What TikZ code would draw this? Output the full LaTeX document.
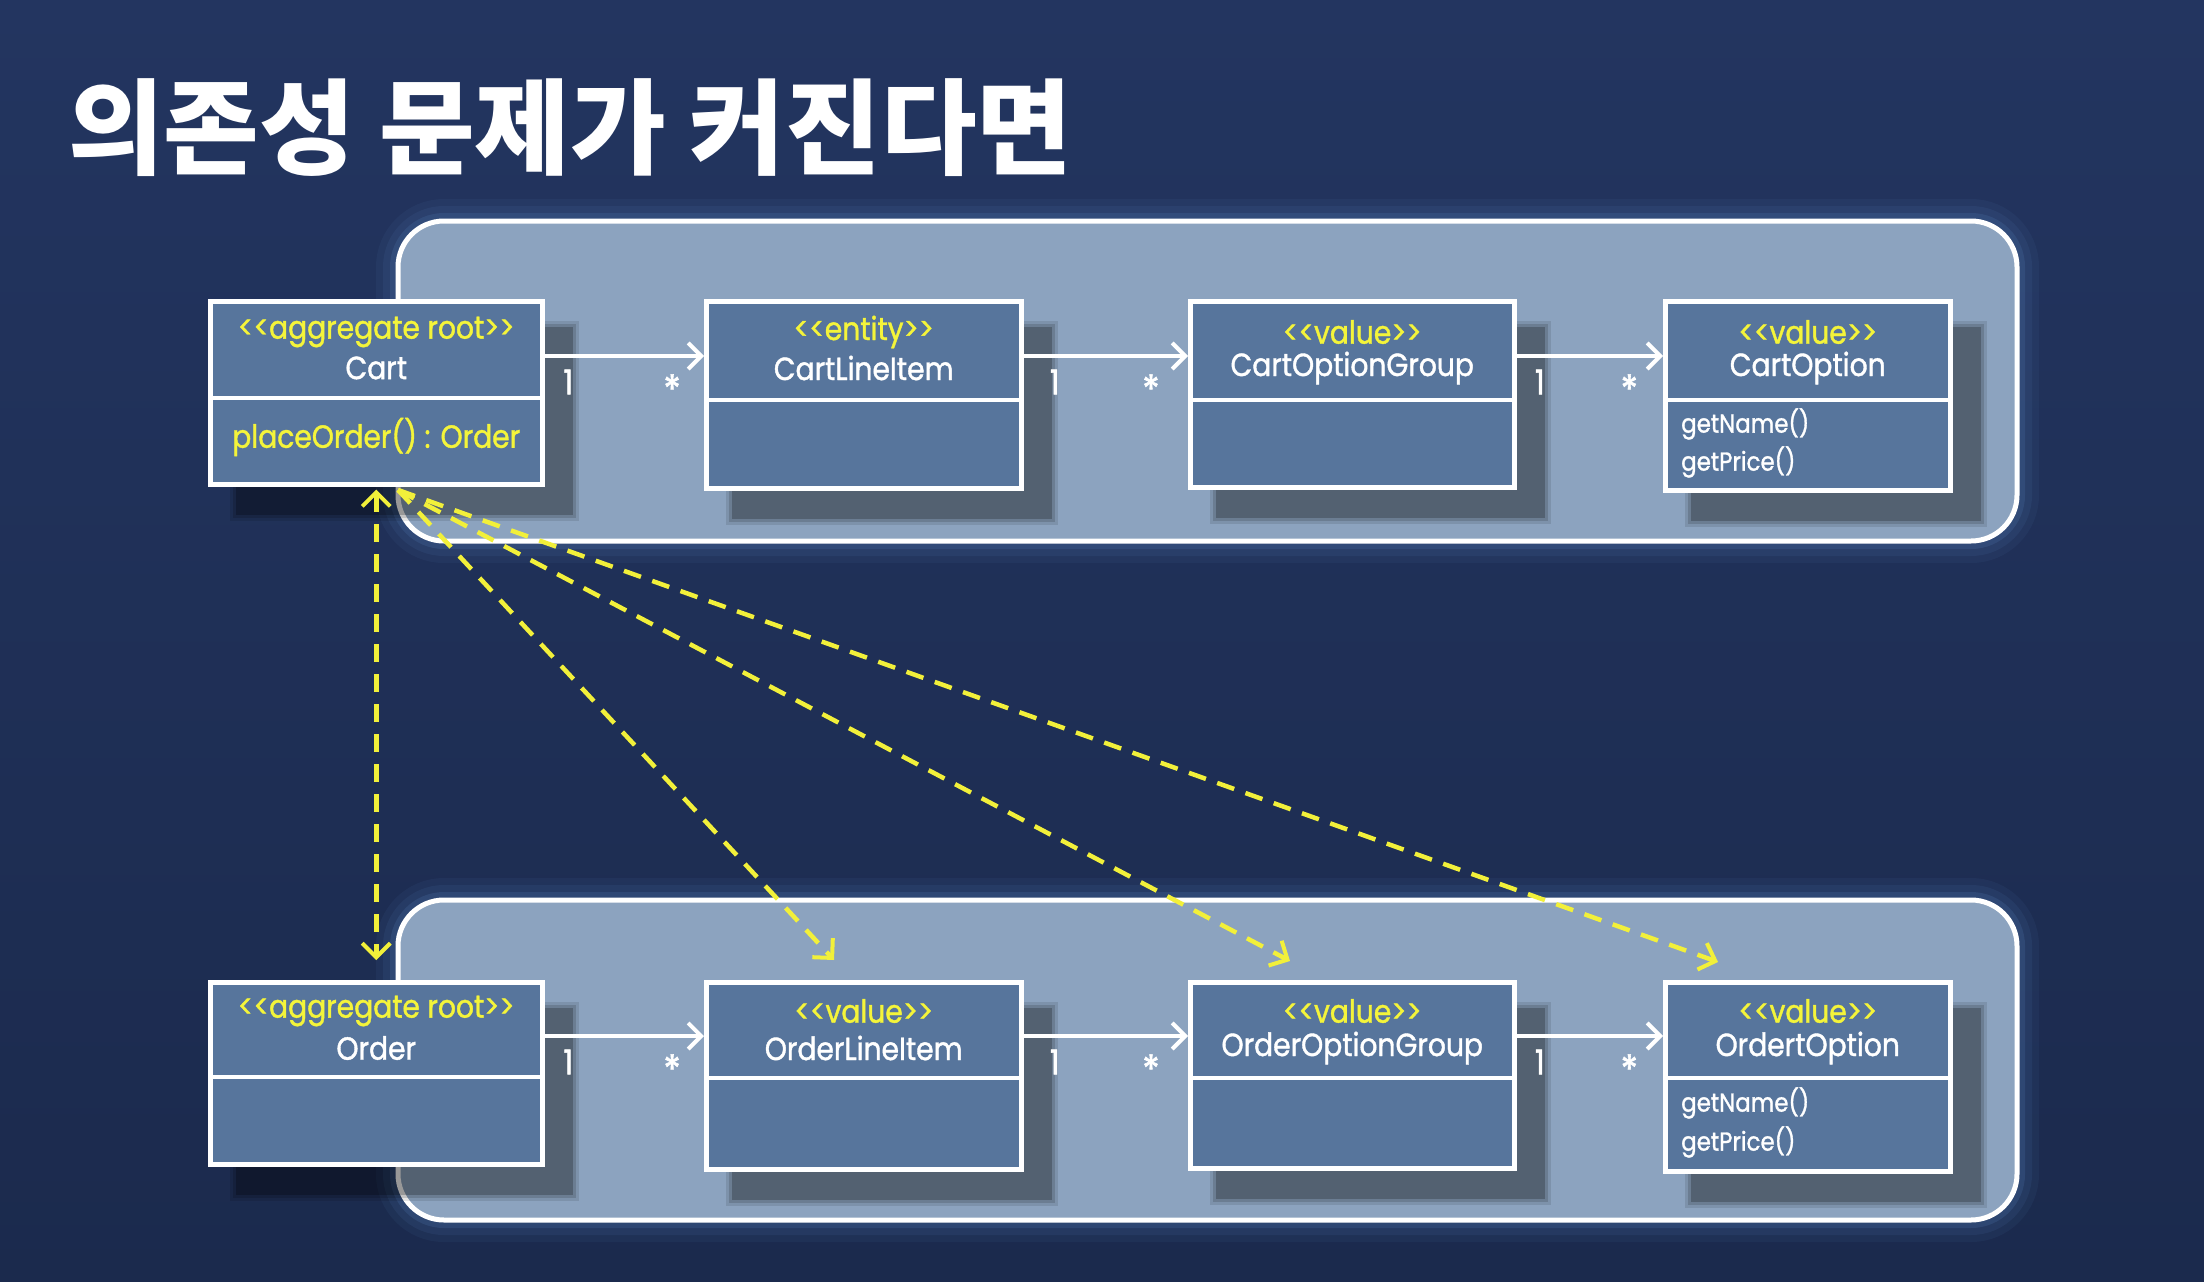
\documentclass[tikz,border=0pt]{standalone}
\usepackage{fontspec}
\usetikzlibrary{arrows.meta,calc}
\newfontfamily\umlfont{Poppins}[Ligatures=TeXOff, FakeStretch=0.88, FakeBold=1.2]
\newfontfamily\multfont{Poppins}[Ligatures=TeXOff, FakeStretch=0.9, FakeBold=1.5]
\newfontfamily\titlefont{Noto Sans CJK KR}[Ligatures=TeXOff]

\definecolor{bgtop}{HTML}{233560}
\definecolor{bgbot}{HTML}{1B2A4D}
\definecolor{contfill}{HTML}{8CA3BF}
\definecolor{boxfill}{HTML}{57759C}
\definecolor{stereo}{HTML}{F4F43A}
\definecolor{glowblue}{HTML}{4A70A6}
\definecolor{depyellow}{HTML}{F2F03A}

\pgfdeclarelayer{bg}
\pgfdeclarelayer{shadowlayer}
\pgfsetlayers{bg,shadowlayer,main}

\tikzset{
  container/.style={draw=white, line width=5pt, fill=contfill, rounded corners=46pt},
  classbox/.style={draw=white, line width=4.5pt, fill=boxfill, inner sep=0pt, anchor=north west},
  stereotype/.style={text=stereo, font=\umlfont\fontsize{32}{34}\selectfont, inner sep=0pt},
  classname/.style={text=white, font=\umlfont\fontsize{32}{34}\selectfont, inner sep=0pt},
  method/.style={text=white, font=\umlfont\fontsize{26}{28}\selectfont, inner sep=0pt, anchor=west},
  rootmethod/.style={text=stereo, font=\umlfont\fontsize{32}{34}\selectfont, inner sep=0pt},
  mult/.style={text=white, font=\multfont\fontsize{34}{36}\selectfont, inner sep=0pt},
  star/.style={text=white, font=\multfont\fontsize{40}{40}\selectfont, inner sep=0pt},
  assoc/.style={draw=white, line width=4pt, -{Straight Barb[length=13pt,width=26pt,line width=4pt]}},
  depline/.style={draw=depyellow, line width=4.5pt, dash pattern=on 18pt off 12pt},
  dep/.style={depline, -{Straight Barb[length=14pt,width=28pt,line width=4pt]}},
}

% soft drop shadow behind a class box
\newcommand\boxshadow[1]{%
  \foreach \g/\o in {6/0.10, 3/0.14, 0/0.22} {
    \fill[black, opacity=\o] ($(#1.north west)+(28-\g,28-\g)$) rectangle ($(#1.south east)+(28+\g,28+\g)$);
  }}
% horizontal compartment separator
\newcommand\compartment[2]{%
  \draw[white, line width=4.5pt] ($(#1.north west)+(0,#2)$) -- ($(#1.north east)+(0,#2)$);}

\begin{document}
\begin{tikzpicture}[x=1pt,y=-1pt]
\useasboundingbox (0,0) rectangle (2204,1282);

\begin{pgfonlayer}{bg}
  \shade[top color=bgtop, bottom color=bgbot] (0,0) rectangle (2204,1282);
  % aggregate boundaries with a soft halo
  \foreach \yt/\yb in {221/541, 900/1220} {
    \foreach \w/\o in {44/0.10, 30/0.14, 16/0.25}
      \draw[glowblue, line width=\w pt, opacity=\o, rounded corners=46pt] (398,\yt) rectangle (2017,\yb);
    \path[container] (398,\yt) rectangle (2017,\yb);
  }
\end{pgfonlayer}

\node[anchor=base west, text=white, inner sep=0pt,
      font=\titlefont\bfseries\fontsize{104}{110}\selectfont] (title) at (68,166) {의존성 문제가 커진다면};

% ---- Cart aggregate ----
\node[classbox, minimum width=332pt, minimum height=183pt] (cart) at (208,299) {};
\node[classbox, minimum width=315pt, minimum height=187pt] (cli)  at (704,299) {};
\node[classbox, minimum width=324pt, minimum height=186pt] (cog)  at (1188,299) {};
\node[classbox, minimum width=285pt, minimum height=189pt] (cop)  at (1663,299) {};

% ---- Order aggregate ----
\node[classbox, minimum width=332pt, minimum height=182pt] (order) at (208,980) {};
\node[classbox, minimum width=315pt, minimum height=187pt] (oli)   at (704,980) {};
\node[classbox, minimum width=324pt, minimum height=186pt] (oog)   at (1188,980) {};
\node[classbox, minimum width=285pt, minimum height=189pt] (oop)   at (1663,980) {};

\begin{pgfonlayer}{shadowlayer}
  \foreach \n in {cart,cli,cog,cop,order,oli,oog,oop} { \boxshadow{\n} }
\end{pgfonlayer}

\compartment{cart}{99}
\foreach \n in {cli,cog,cop} { \compartment{\n}{101} }
\compartment{order}{97}
\foreach \n in {oli,oog,oop} { \compartment{\n}{98} }

% header texts
\foreach \n/\s/\c in {cart/{<<aggregate root>>}/Cart, cli/{<<entity>>}/CartLineItem,
                      cog/{<<value>>}/CartOptionGroup, cop/{<<value>>}/CartOption} {
  \node[stereotype] (\n-st) at ($(\n.north)+(0,33)$) {\s};
  \node[classname]  (\n-nm) at ($(\n.north)+(0,69)$) {\c};
}
\foreach \n/\s/\c in {order/{<<aggregate root>>}/Order, oli/{<<value>>}/OrderLineItem,
                      oog/{<<value>>}/OrderOptionGroup, oop/{<<value>>}/OrdertOption} {
  \node[stereotype] (\n-st) at ($(\n.north)+(0,31)$) {\s};
  \node[classname]  (\n-nm) at ($(\n.north)+(0,68)$) {\c};
}

% operations
\node[rootmethod] (cart-op) at ($(cart.north)+(0,138)$) {placeOrder() : Order};
\node[method] (cop-op1) at ($(cop.north west)+(18,125)$) {getName()};
\node[method] (cop-op2) at ($(cop.north west)+(18,163)$) {getPrice()};
\node[method] (oop-op1) at ($(oop.north west)+(18,123)$) {getName()};
\node[method] (oop-op2) at ($(oop.north west)+(18,162)$) {getPrice()};

% associations with multiplicities
\foreach \a/\b/\p/\q in {cart/cli/0.15/0.80, cli/cog/0.19/0.775, cog/cop/0.16/0.77} {
  \draw[assoc] ($(\a.north east)+(0,57)$) -- ($(\b.north west)+(0,57)$)
    node[mult, pos=\p, yshift=-26pt] {1}
    node[star, pos=\q, yshift=-33pt] {*};
}
\foreach \a/\b/\p/\q in {order/oli/0.15/0.80, oli/oog/0.19/0.775, oog/oop/0.16/0.77} {
  \draw[assoc] ($(\a.north east)+(0,56)$) -- ($(\b.north west)+(0,56)$)
    node[mult, pos=\p, yshift=-26pt] {1}
    node[star, pos=\q, yshift=-33pt] {*};
}

% dependencies from Cart into the Order aggregate
\coordinate (depsrc) at (398,490);
\coordinate (tipoli) at (834,960);
\coordinate (tipoog) at (1290,961);
\coordinate (tipoop) at (1718,962);
\draw[depline, {Straight Barb[length=14pt,width=28pt,line width=4pt]}-{Straight Barb[length=14pt,width=28pt,line width=4pt]}]
  ($(cart.south)+(0,3)$) -- ($(order.north)+(0,-20)$);
\draw[dep] (depsrc) -- (tipoli);
\draw[dep] (depsrc) -- (tipoog);
\draw[dep] (depsrc) -- (tipoop);
\end{tikzpicture}
\end{document}
